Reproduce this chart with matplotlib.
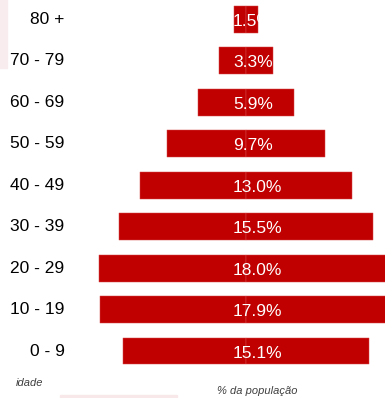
import matplotlib.pyplot as plt
from matplotlib.patches import Rectangle

# faixas etarias e % da populacao
faixas = ["0 - 9", "10 - 19", "20 - 29", "30 - 39", "40 - 49",
          "50 - 59", "60 - 69", "70 - 79", "80 +"]
valores = [15.1, 17.9, 18.0, 15.5, 13.0, 9.7, 5.9, 3.3, 1.5]
rotulos = ["15.1%", "17.9%", "18.0%", "15.5%", "13.0%",
           "9.7%", "5.9%", "3.3%", "1.5%"]

plt.rcParams['font.family'] = ['Liberation Sans', 'DejaVu Sans']

fig = plt.figure(figsize=(3.85, 3.98), dpi=100)
ax = fig.add_axes([0, 0, 1, 1])

vermelho = "#C00000"
borda = "#D84848"
y = list(range(len(faixas)))
metade = [v / 2 for v in valores]

# piramide: metade para cada lado do eixo central
ax.barh(y, [-m for m in metade], height=0.65, color=vermelho,
        edgecolor=borda, linewidth=0.35)
ax.barh(y, metade, height=0.65, color=vermelho,
        edgecolor=borda, linewidth=0.35)

for i, txt in enumerate(rotulos):
    ax.text(-0.8, i - 0.05, txt, color="white", fontsize=12.5,
            ha="left", va="center")
    ax.text(-11.1, i, faixas[i], color="black", fontsize=12.5,
            ha="right", va="center")

ax.set_xlim(-15.05, 8.50)
ax.set_ylim(-1.134, 8.470)
ax.axis("off")

# textos de rodape
fig.text(16 / 385, 1 - 383 / 398, "idade", fontsize=8, style="italic",
         color="#404040", ha="left", va="center")
fig.text(217 / 385, 1 - 391 / 398, "% da população", fontsize=8,
         style="italic", color="#404040", ha="left", va="center")

# pequenos residuos rosados da imagem original
fig.patches.append(Rectangle((0, 1 - 68 / 398), 7 / 385, 68 / 398,
                             transform=fig.transFigure, color="#F8ECEE",
                             zorder=0))
fig.patches.append(Rectangle((60 / 385, 0), 117 / 385, 3 / 398,
                             transform=fig.transFigure, color="#F8E8EA",
                             zorder=0))

fig.savefig("out.png", dpi=100)
